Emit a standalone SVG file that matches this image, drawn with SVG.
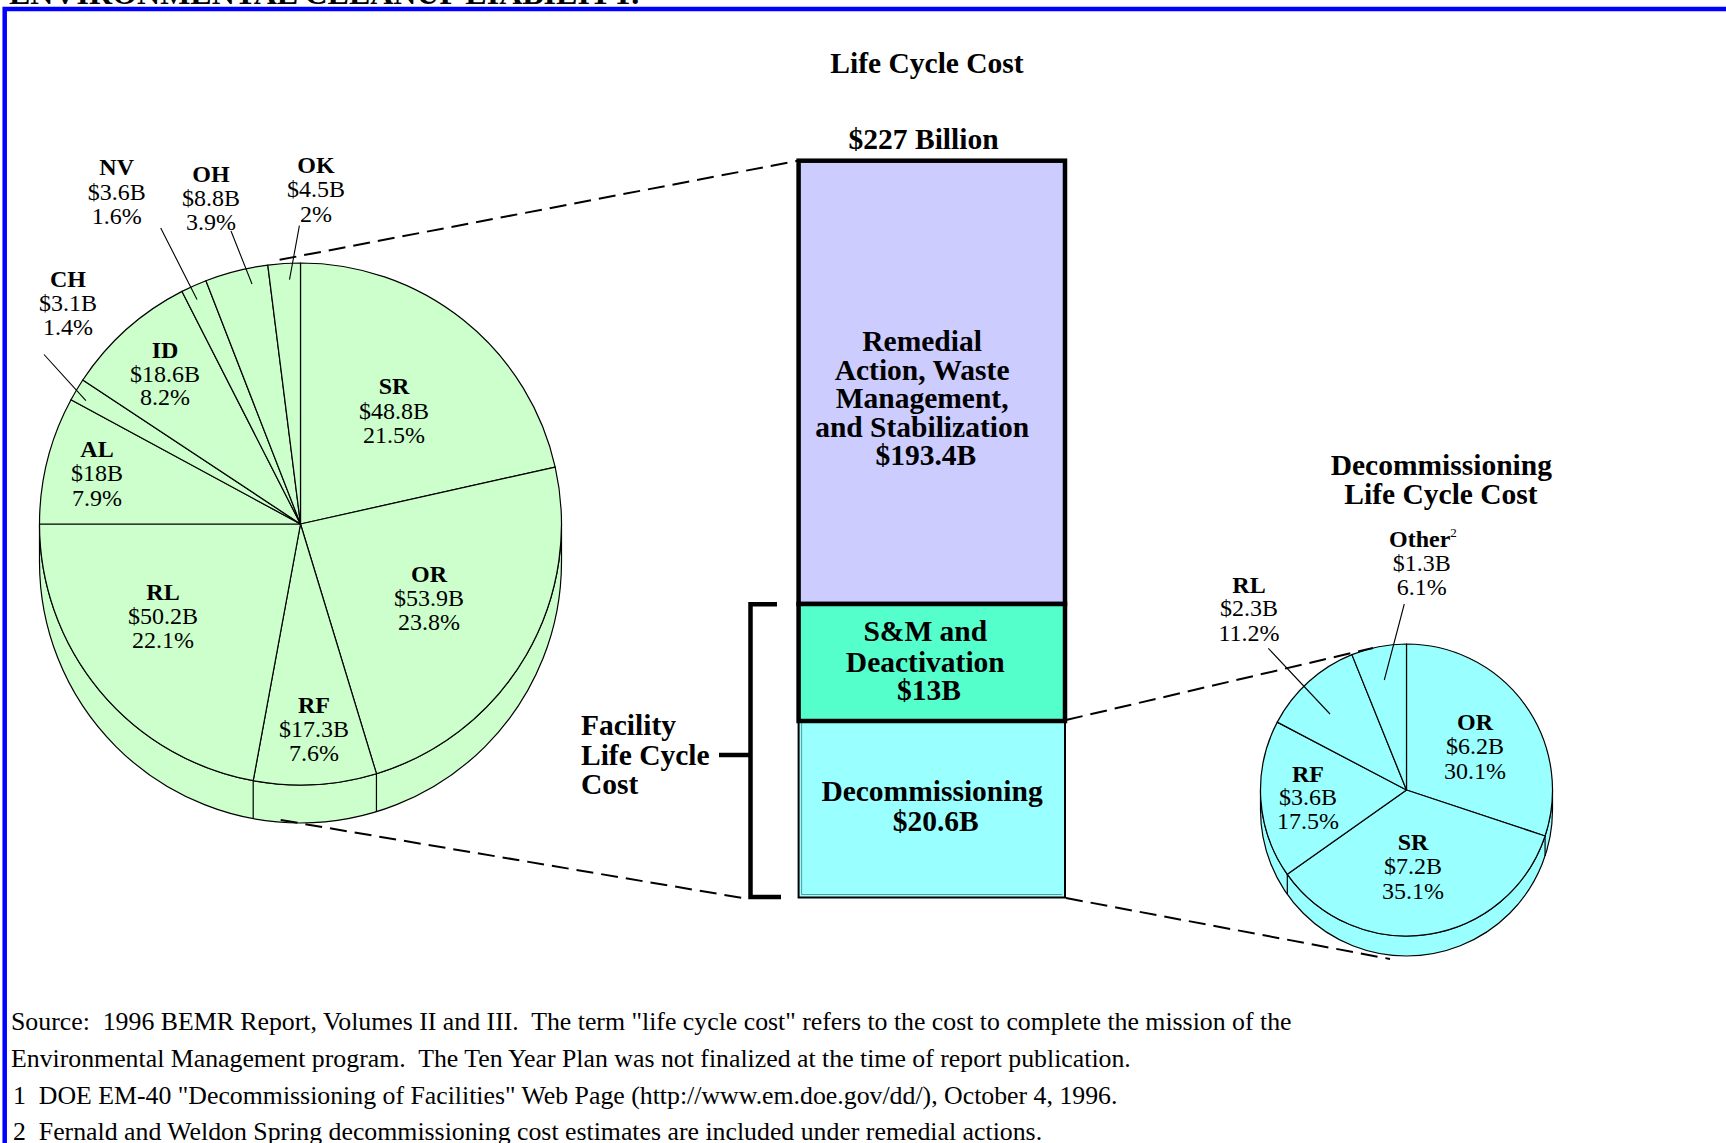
<svg xmlns="http://www.w3.org/2000/svg" width="1726" height="1143" viewBox="0 0 1726 1143">
  <defs>
    <style>
      .serif { font-family: "Liberation Serif", "Times New Roman", serif; fill: #000; }
      .hd { font-family: "Liberation Serif", "Times New Roman", serif; font-weight: bold; font-size: 29.5px; fill: #000; }
      .lb { font-family: "Liberation Serif", "Times New Roman", serif; font-size: 24px; fill: #000; text-anchor: middle; }
      .lb .nm { font-weight: bold; }
      .fn { font-family: "Liberation Serif", "Times New Roman", serif; font-size: 25.8px; fill: #000; }
      .mid { text-anchor: middle; }
      .green { fill: #CCFFCC; stroke: #000; stroke-width: 1.2; stroke-linejoin: round; }
      .cyan { fill: #99FFFF; stroke: #000; stroke-width: 1.2; stroke-linejoin: round; }
      .edge { stroke: #000; stroke-width: 1.2; fill: none; }
      .leader { stroke: #000; stroke-width: 1.1; fill: none; }
      .dash { stroke: #000; stroke-width: 2; fill: none; stroke-dasharray: 17 8; }
      .heavy { stroke: #000; stroke-width: 4.5; fill: none; stroke-linejoin: miter; }
    </style>
  </defs>

  <rect width="1726" height="1143" fill="#FFFFFF"/>

  <!-- page heading, clipped by the top edge -->
  <text x="9" y="4" class="serif" font-weight="bold" font-size="32">ENVIRONMENTAL CLEANUP LIABILITY.</text>

  <!-- blue frame -->
  <path d="M4.7,1143 V9 H1726" fill="none" stroke="#0000FF" stroke-width="4.5"/>

  <!-- ===== Site pie (total life cycle cost by site) ===== -->
  <g id="site-pie">
    <path class="green" d="M561.5,524 V562 A261,261 0 0 1 39.5,562 V524 A261,261 0 0 0 561.5,524 Z"/>
    <path class="edge" d="M376.45,773.7 V811.7 M253.2,780.7 V818.7"/>
    <path id="slice-SR" class="green" d="M300.5,524 L300.5,263 A261,261 0 0 1 555.2,467.1 Z"/>
    <path id="slice-OR" class="green" d="M300.5,524 L555.2,467.1 A261,261 0 0 1 376.45,773.7 Z"/>
    <path id="slice-RF" class="green" d="M300.5,524 L376.45,773.7 A261,261 0 0 1 253.2,780.7 Z"/>
    <path id="slice-RL" class="green" d="M300.5,524 L253.2,780.7 A261,261 0 0 1 39.5,524 Z"/>
    <path id="slice-AL" class="green" d="M300.5,524 L39.5,524 A261,261 0 0 1 71.0,399.7 Z"/>
    <path id="slice-CH" class="green" d="M300.5,524 L71.0,399.7 A261,261 0 0 1 82.8,380.0 Z"/>
    <path id="slice-ID" class="green" d="M300.5,524 L82.8,380.0 A261,261 0 0 1 182.0,291.4 Z"/>
    <path id="slice-NV" class="green" d="M300.5,524 L182.0,291.4 A261,261 0 0 1 205.95,280.7 Z"/>
    <path id="slice-OH" class="green" d="M300.5,524 L205.95,280.7 A261,261 0 0 1 267.8,265.1 Z"/>
    <path id="slice-OK" class="green" d="M300.5,524 L267.8,265.1 A261,261 0 0 1 300.5,263 Z"/>

    <!-- leaders for the narrow slices -->
    <path class="leader" d="M160.7,228 L197,299.4 M231,231 L252,284 M299.4,225.7 L289.5,279.6 M44,354.5 L85.9,400.7"/>

    <g class="lb">
      <text x="116.7" y="175.3"><tspan class="nm">NV</tspan><tspan x="116.7" y="199.5">$3.6B</tspan><tspan x="116.7" y="223.8">1.6%</tspan></text>
      <text x="211" y="182"><tspan class="nm">OH</tspan><tspan x="211" y="206">$8.8B</tspan><tspan x="211" y="230">3.9%</tspan></text>
      <text x="316" y="173"><tspan class="nm">OK</tspan><tspan x="316" y="197">$4.5B</tspan><tspan x="316" y="221.6">2%</tspan></text>
      <text x="68" y="286.5"><tspan class="nm">CH</tspan><tspan x="68" y="310.7">$3.1B</tspan><tspan x="68" y="335">1.4%</tspan></text>
      <text x="165" y="358"><tspan class="nm">ID</tspan><tspan x="165" y="382">$18.6B</tspan><tspan x="165" y="405.4">8.2%</tspan></text>
      <text x="394" y="394.4"><tspan class="nm">SR</tspan><tspan x="394" y="418.6">$48.8B</tspan><tspan x="394" y="442.8">21.5%</tspan></text>
      <text x="97" y="457"><tspan class="nm">AL</tspan><tspan x="97" y="481.3">$18B</tspan><tspan x="97" y="505.6">7.9%</tspan></text>
      <text x="163" y="600"><tspan class="nm">RL</tspan><tspan x="163" y="624">$50.2B</tspan><tspan x="163" y="648">22.1%</tspan></text>
      <text x="429" y="581.5"><tspan class="nm">OR</tspan><tspan x="429" y="605.7">$53.9B</tspan><tspan x="429" y="630">23.8%</tspan></text>
      <text x="314" y="712.5"><tspan class="nm">RF</tspan><tspan x="314" y="736.7">$17.3B</tspan><tspan x="314" y="761">7.6%</tspan></text>
    </g>
  </g>

  <!-- ===== Stacked cost bar ===== -->
  <g id="cost-bar">
    <text x="927" y="73" class="hd mid">Life Cycle Cost</text>
    <text x="923.6" y="149" class="hd mid">$227 Billion</text>

    <g id="bar-remedial">
      <rect x="798.6" y="160.7" width="266.4" height="443.3" fill="#CCCCFF" stroke="#000" stroke-width="4.5"/>
      <text class="hd mid">
        <tspan x="925.8" y="351">Remedial</tspan>
        <tspan x="925.8" y="379.6">Action, Waste</tspan>
        <tspan x="925.8" y="408.2">Management,</tspan>
        <tspan x="925.8" y="436.8">and Stabilization</tspan>
        <tspan x="925.8" y="465.4">$193.4B</tspan>
      </text>
    </g>

    <g id="bar-decommissioning">
      <rect x="798.6" y="721" width="266.4" height="176.5" fill="#99FFFF" stroke="#000" stroke-width="2"/>
      <path d="M801.6,721 V894.5 H1062" fill="none" stroke="#000" stroke-width="0.8" opacity="0.5"/>
      <text class="hd mid">
        <tspan x="935.7" y="801">Decommissioning</tspan>
        <tspan x="935.7" y="831">$20.6B</tspan>
      </text>
    </g>

    <g id="bar-sm">
      <rect x="798.6" y="604" width="266.4" height="117" fill="#55FFCC" stroke="#000" stroke-width="4.5"/>
      <text class="hd mid">
        <tspan x="929" y="641">S&amp;M and</tspan>
        <tspan x="929" y="671.5">Deactivation</tspan>
        <tspan x="929" y="699.5">$13B</tspan>
      </text>
    </g>
  </g>

  <!-- facility bracket -->
  <g id="facility-bracket">
    <path class="heavy" d="M777,604.3 H750.5 V897 H781"/>
    <path class="heavy" d="M719,755 H750"/>
    <text class="hd">
      <tspan x="581" y="735">Facility</tspan>
      <tspan x="581" y="765">Life Cycle</tspan>
      <tspan x="581" y="794">Cost</tspan>
    </text>
  </g>

  <!-- ===== Decommissioning pie ===== -->
  <g id="decom-pie">
    <text class="hd mid">
      <tspan x="1445" y="474.5">Decommissioning</tspan>
      <tspan x="1441" y="504">Life Cycle Cost</tspan>
    </text>
    <path class="cyan" d="M1552.5,790 V810 A146,146 0 0 1 1260.5,810 V790 A146,146 0 0 0 1552.5,790 Z"/>
    <path class="edge" d="M1545.07,836 V856 M1287.31,874.3 V894.3"/>
    <path id="dslice-OR" class="cyan" d="M1406.5,790 L1406.5,644 A146,146 0 0 1 1545.07,835.99 Z"/>
    <path id="dslice-SR" class="cyan" d="M1406.5,790 L1545.07,835.99 A146,146 0 0 1 1287.31,874.32 Z"/>
    <path id="dslice-RF" class="cyan" d="M1406.5,790 L1287.31,874.32 A146,146 0 0 1 1277.26,722.1 Z"/>
    <path id="dslice-RL" class="cyan" d="M1406.5,790 L1277.26,722.1 A146,146 0 0 1 1351.9,654.6 Z"/>
    <path id="dslice-Other" class="cyan" d="M1406.5,790 L1351.9,654.6 A146,146 0 0 1 1406.5,644 Z"/>

    <path class="leader" d="M1404.3,604 L1384.3,680 M1268.3,648.3 L1330,714"/>

    <g class="lb">
      <text x="1389" y="547.4" text-anchor="start"><tspan class="nm">Other</tspan><tspan font-size="13" dy="-10">2</tspan></text>
      <text x="1421.7" y="570.5">$1.3B<tspan x="1421.7" y="594.7">6.1%</tspan></text>
      <text x="1249" y="592.5"><tspan class="nm">RL</tspan><tspan x="1249" y="615.6">$2.3B</tspan><tspan x="1249" y="641">11.2%</tspan></text>
      <text x="1475" y="730"><tspan class="nm">OR</tspan><tspan x="1475" y="754.3">$6.2B</tspan><tspan x="1475" y="778.6">30.1%</tspan></text>
      <text x="1308" y="782"><tspan class="nm">RF</tspan><tspan x="1308" y="805">$3.6B</tspan><tspan x="1308" y="829">17.5%</tspan></text>
      <text x="1413" y="850"><tspan class="nm">SR</tspan><tspan x="1413" y="874.3">$7.2B</tspan><tspan x="1413" y="898.5">35.1%</tspan></text>
    </g>
  </g>

  <!-- connectors -->
  <g id="connectors">
    <path class="dash" d="M279.6,259.8 L798,160.7"/>
    <path class="dash" d="M280.7,820 L748.5,899"/>
    <path class="dash" d="M1066,720 L1373,648"/>
    <path class="dash" d="M1066,898 L1390,959"/>
  </g>

  <!-- footnotes -->
  <g id="notes" class="fn">
    <text x="11" y="1030" xml:space="preserve">Source:  1996 BEMR Report, Volumes II and III.  The term "life cycle cost" refers to the cost to complete the mission of the</text>
    <text x="11" y="1067" xml:space="preserve">Environmental Management program.  The Ten Year Plan was not finalized at the time of report publication.</text>
    <text x="13" y="1104" xml:space="preserve">1  DOE EM-40 "Decommissioning of Facilities" Web Page (http://www.em.doe.gov/dd/), October 4, 1996.</text>
    <text x="13" y="1140" xml:space="preserve">2  Fernald and Weldon Spring decommissioning cost estimates are included under remedial actions.</text>
  </g>
</svg>
